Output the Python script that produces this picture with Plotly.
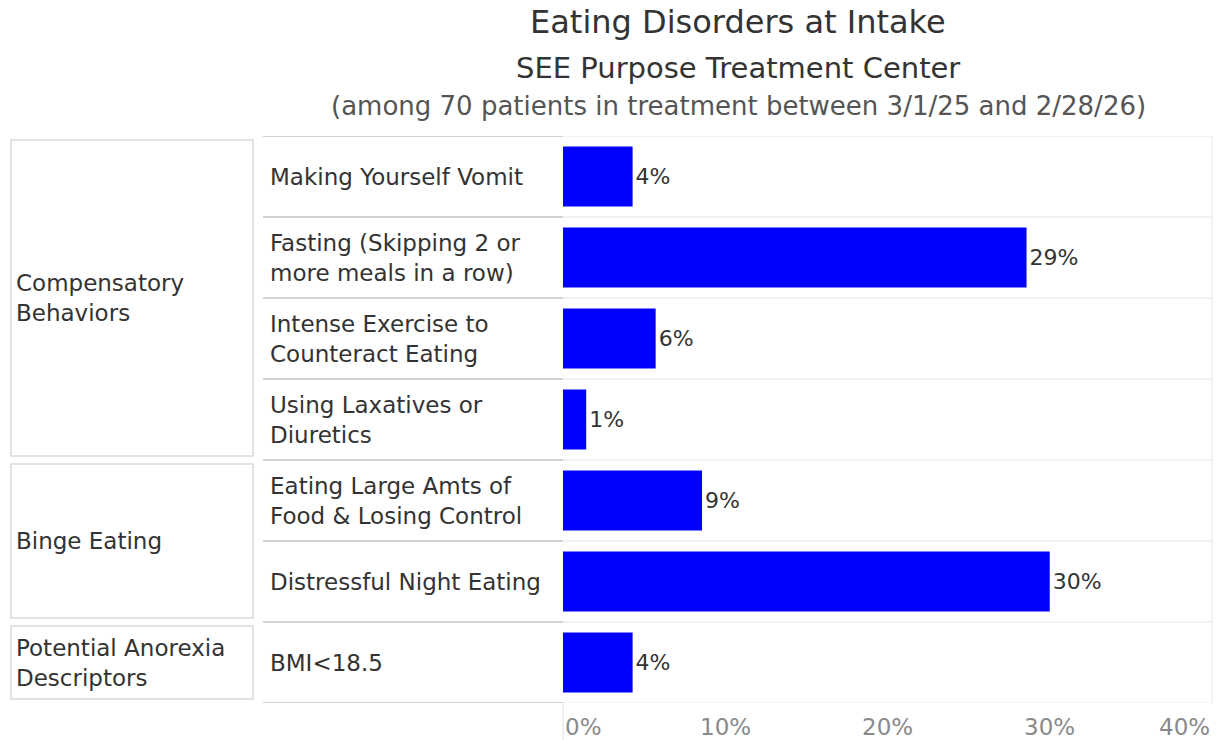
import plotly.graph_objects as go

# data
groups = ["Compensatory Behaviors", "Binge Eating", "Potential Anorexia Descriptors"]
group_labels = ["Compensatory<br>Behaviors", "Binge Eating", "Potential Anorexia<br>Descriptors"]
group_sizes = [4, 2, 1]

behaviors = [
    "Making Yourself Vomit",
    "Fasting (Skipping 2 or more meals in a row)",
    "Intense Exercise to Counteract Eating",
    "Using Laxatives or Diuretics",
    "Eating Large Amts of Food & Losing Control",
    "Distressful Night Eating",
    "BMI<18.5",
]
behavior_labels = [
    "Making Yourself Vomit",
    "Fasting (Skipping 2 or<br>more meals in a row)",
    "Intense Exercise to<br>Counteract Eating",
    "Using Laxatives or<br>Diuretics",
    "Eating Large Amts of<br>Food & Losing Control",
    "Distressful Night Eating",
    "BMI<18.5",
]
pct = [4.29, 28.57, 5.71, 1.43, 8.57, 30.0, 4.29]

tick_vals = [0, 10, 20, 30, 40]
tick_text = ["0%", "10%", "20%", "30%", "40%"]

FONT = "DejaVu Sans"
W, H = 1221, 740
L, R, T, B = 563, 9, 136, 37
pw = W - L - R
ph = H - T - B


def px(x):
    # pixel x -> paper x
    return (x - L) / pw


def py(y):
    # pixel y -> paper y
    return (H - B - y) / ph


fig = go.Figure()
fig.add_trace(go.Bar(
    x=pct, y=behaviors, orientation="h",
    marker=dict(color="#0000ff", line=dict(width=0)),
    texttemplate="%{x:.0f}%", textposition="outside",
    textfont=dict(family=FONT, size=22, color="#333333"),
    cliponaxis=False, hoverinfo="skip",
))

shapes = []
n = len(behaviors)
for i in range(n + 1):
    yb = i - 0.5
    shapes.append(dict(type="line", xref="paper", yref="y", x0=px(263), x1=0,
                       y0=yb, y1=yb, line=dict(color="#d2d2d2", width=2)))
    shapes.append(dict(type="line", xref="paper", yref="y", x0=0, x1=1,
                       y0=yb, y1=yb, line=dict(color="#e6e6e6", width=1)))
shapes.append(dict(type="line", xref="paper", yref="paper", x0=1, x1=1, y0=0, y1=1,
                   line=dict(color="#e6e6e6", width=1)))
shapes.append(dict(type="line", xref="paper", yref="paper", x0=0, x1=0,
                   y0=-B / ph, y1=0, line=dict(color="#e0e0e0", width=1)))

annotations = []
start = 0
for lab, size in zip(group_labels, group_sizes):
    y0 = start - 0.5 + 0.05
    y1 = start + size - 0.5 - 0.05
    shapes.append(dict(type="rect", xref="paper", yref="y", x0=px(11), x1=px(253),
                       y0=y0, y1=y1, line=dict(color="#d9d9d9", width=1.5),
                       fillcolor="rgba(0,0,0,0)"))
    annotations.append(dict(x=px(14), y=start + (size - 1) / 2, xref="paper", yref="y",
                            text=lab, showarrow=False, xanchor="left", align="left",
                            font=dict(family=FONT, size=23, color="#333333")))
    start += size

for b, lab in zip(behaviors, behavior_labels):
    annotations.append(dict(x=px(268), y=b, xref="paper", yref="y", text=lab,
                            showarrow=False, xanchor="left", align="left",
                            font=dict(family=FONT, size=23, color="#333333")))

# x tick labels: first left-aligned, last right-aligned, like the reference
for k, (v, t) in enumerate(zip(tick_vals, tick_text)):
    anchor = "left" if k == 0 else ("right" if k == len(tick_vals) - 1 else "center")
    annotations.append(dict(x=v, y=py(727), xref="x", yref="paper", text=t,
                            showarrow=False, xanchor=anchor, yanchor="middle",
                            font=dict(family=FONT, size=23, color="#8a8a8a")))

titles = [
    ("Eating Disorders at Intake", 22, 32, "#333333"),
    ("SEE Purpose Treatment Center", 68, 29, "#333333"),
    ("(among 70 patients in treatment between 3/1/25 and 2/28/26)", 106, 26, "#555555"),
]
for txt, ypx, sz, col in titles:
    annotations.append(dict(x=px(738), y=py(ypx), xref="paper", yref="paper",
                            text=txt, showarrow=False, xanchor="center", yanchor="middle",
                            font=dict(family=FONT, size=sz, color=col)))

fig.update_layout(
    width=W, height=H,
    margin=dict(l=L, r=R, t=T, b=B),
    paper_bgcolor="white", plot_bgcolor="white",
    showlegend=False, bargap=0.26,
    shapes=shapes, annotations=annotations,
    font=dict(family=FONT),
)
fig.update_xaxes(range=[0, 40], tickvals=tick_vals, showticklabels=False,
                 showgrid=False, zeroline=False, showline=False)
fig.update_yaxes(categoryorder="array", categoryarray=behaviors,
                 range=[n - 0.5, -0.5], showticklabels=False, showgrid=False,
                 zeroline=False, showline=False)

# drop the default body margin so the figure fills the window
fig.write_html("out.html", config={"displayModeBar": False},
               post_script="document.body.style.margin='0px';")
